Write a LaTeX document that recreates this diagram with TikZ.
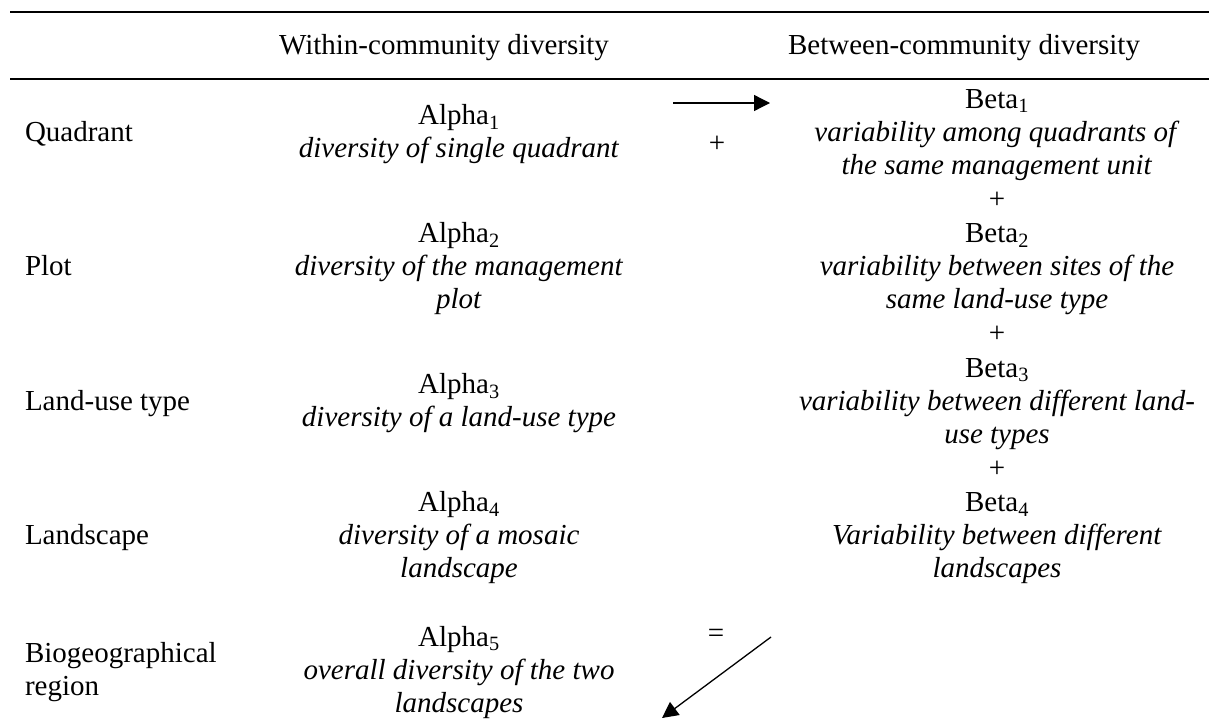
\documentclass[tikz,border=0pt]{standalone}
\usepackage{fontspec}
\setmainfont{Liberation Serif}
\usetikzlibrary{arrows.meta}
\begin{document}
\begin{tikzpicture}[x=1pt,y=-1pt,
  every node/.style={inner sep=0pt, outer sep=0pt, font=\fontsize{29}{33}\selectfont},
  cell/.style={align=center},
  lab/.style={anchor=west, align=left},
  hrule/.style={line width=1.8pt},
  conn/.style={line width=1.3pt, -{Triangle[length=16pt,width=16pt]}}]
\useasboundingbox (0,0) rectangle (1209,718);
% table rules
\draw[hrule] (10,12) -- (1209,12);
\draw[hrule] (10,79) -- (1209,79);
% header
\node (hw) at (444,47.4) {\strut Within-community diversity};
\node (hb) at (964,47.4) {\strut Between-community diversity};
% row labels
\node[lab] (lq) at (25,134.4) {\strut Quadrant};
\node[lab] (lp) at (25,268.9) {\strut Plot};
\node[lab] (ll) at (25,403.4) {\strut Land-use type};
\node[lab] (lls) at (25,537.9) {\strut Landscape};
\node[lab] (lb) at (25,672.4) {\strut Biogeographical\\\strut region};
% alpha column
\node[cell] (a1) at (459,134.4) {\strut Alpha\textsubscript{1}\\\strut\textit{diversity of single quadrant}};
\node[cell] (a2) at (459,268.9) {\strut Alpha\textsubscript{2}\\\strut\textit{diversity of the management}\\\strut\textit{plot}};
\node[cell] (a3) at (459,403.4) {\strut Alpha\textsubscript{3}\\\strut\textit{diversity of a land-use type}};
\node[cell] (a4) at (459,537.9) {\strut Alpha\textsubscript{4}\\\strut\textit{diversity of a mosaic}\\\strut\textit{landscape}};
\node[cell] (a5) at (459,672.4) {\strut Alpha\textsubscript{5}\\\strut\textit{overall diversity of the two}\\\strut\textit{landscapes}};
% beta column
\node[cell] (b1) at (997,134.4) {\strut Beta\textsubscript{1}\\\strut\textit{variability among quadrants of}\\\strut\textit{the same management unit}};
\node (p1) at (997,201.65) {\strut +};
\node[cell] (b2) at (997,268.9) {\strut Beta\textsubscript{2}\\\strut\textit{variability between sites of the}\\\strut\textit{same land-use type}};
\node (p2) at (997,336.15) {\strut +};
\node[cell] (b3) at (997,403.4) {\strut Beta\textsubscript{3}\\\strut\textit{variability between different land-}\\\strut\textit{use types}};
\node (p3) at (997,470.65) {\strut +};
\node[cell] (b4) at (997,537.9) {\strut Beta\textsubscript{4}\\\strut\textit{Variability between different}\\\strut\textit{landscapes}};
% middle column
\node (mp) at (717,145.4) {\strut +};
\node (eq) at (716,635.4) {\strut =};
% arrows
\coordinate (t0) at (673,103);
\coordinate (t1) at (770,103);
\draw[conn] (t0) -- (t1);
\coordinate (d0) at (771,637);
\coordinate (d1) at (662,718);
\draw[conn] (d0) -- (d1);
\end{tikzpicture}
\end{document}
